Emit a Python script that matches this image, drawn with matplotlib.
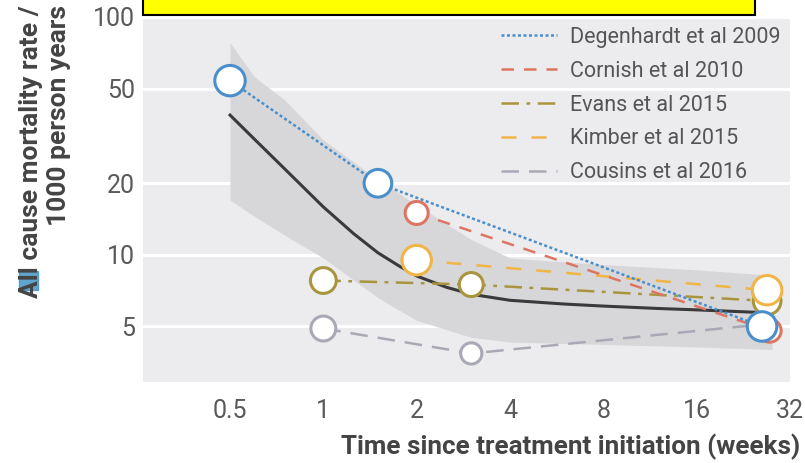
import matplotlib
matplotlib.use('Agg')
import matplotlib.pyplot as plt
from matplotlib.patches import Rectangle
from matplotlib.ticker import FixedLocator, NullLocator, FixedFormatter

plt.rcParams['font.family'] = ['Roboto', 'DejaVu Sans']

# Study data (weeks since treatment start, deaths per 1000 person years)
deg_weeks = [0.5, 1.5, 26]
deg_rate = [54, 20, 5.0]
cor_weeks = [2, 27.5]
cor_rate = [15, 4.8]
eva_weeks = [1, 3, 27]
eva_rate = [7.8, 7.5, 6.4]
kim_weeks = [2, 27]
kim_rate = [9.5, 7.1]
cou_weeks = [1, 3, 26]
cou_rate = [4.9, 3.85, 5.1]

# Pooled curve and its confidence band
pool_weeks = [0.5, 0.6, 0.75, 0.9, 1, 1.25, 1.5, 1.75, 2, 2.5, 3, 4, 6, 8, 12, 16, 26]
pool_rate = [38.7, 30.6, 23.0, 18.2, 15.9, 12.3, 10.2, 9.0, 8.15, 7.3, 6.83, 6.44,
             6.21, 6.09, 5.95, 5.87, 5.72]
band_weeks = [0.5, 0.6, 0.75, 1, 1.5, 2, 3, 4, 8, 16, 28]
band_hi = [77.8, 56, 44.8, 30.4, 20.7, 16.2, 11.6, 9.7, 9.1, 8.65, 8.2]
band_lo = [17.0, 14.5, 12.1, 9.7, 6.6, 5.3, 4.5, 4.3, 4.2, 4.1, 4.0]

labels = ['Degenhardt et al 2009', 'Cornish et al 2010', 'Evans et al 2015',
          'Kimber et al 2015', 'Cousins et al 2016']
x_ticks = [0.5, 1, 2, 4, 8, 16, 32]
x_ticklabels = ['0.5', '1', '2', '4', '8', '16', '32']
y_ticks = [5, 10, 20, 50, 100]
y_ticklabels = ['5', '10', '20', '50', '100']

# legend order: data, colour, dash pattern, marker diameters (px)
series = [
    (deg_weeks, deg_rate, '#4a8fcc', (0, (1.2, 1.0)), [33, 30, 32]),
    (cor_weeks, cor_rate, '#dd7563', (0, (5, 4)), [25, 25]),
    (eva_weeks, eva_rate, '#a8953e', (0, (7, 3, 1.5, 3)), [28, 26, 30]),
    (kim_weeks, kim_rate, '#f0b447', (0, (6, 6)), [32, 32]),
    (cou_weeks, cou_rate, '#a9a9b6', (0, (7, 4)), [27, 23, 28]),
]
draw_order = [4, 2, 3, 1, 0]

fig = plt.figure(figsize=(8.05, 4.63), dpi=100)
ax = fig.add_axes([143 / 805, 81 / 463, 647 / 805, 365 / 463])
ax.set_facecolor('#ececee')
ax.set_xscale('log', base=2)
ax.set_yscale('log')
ax.set_xlim(0.262, 32)
ax.set_ylim(2.92, 100)

ax.fill_between(band_weeks, band_lo, band_hi, color='#d7d7da', lw=0, zorder=1)
ax.plot(pool_weeks, pool_rate, color='#3a3a3a', lw=2.2, zorder=2)

z = 3
for k in draw_order:
    wx, ry, col, ls, msz = series[k]
    ax.plot(wx, ry, color=col, lw=1.8, linestyle=ls, zorder=z)
    ax.scatter(wx, ry, s=[(d * 0.72) ** 2 * 0.85 for d in msz], facecolor='white',
               edgecolor=col, linewidth=2.2, zorder=z + 1)
    z += 2

for s in ax.spines.values():
    s.set_visible(False)

ax.xaxis.set_major_locator(FixedLocator(x_ticks))
ax.xaxis.set_major_formatter(FixedFormatter(x_ticklabels))
ax.xaxis.set_minor_locator(NullLocator())
ax.yaxis.set_major_locator(FixedLocator(y_ticks))
ax.yaxis.set_major_formatter(FixedFormatter(y_ticklabels))
ax.yaxis.set_minor_locator(NullLocator())
ax.tick_params(axis='both', length=0, labelsize=18, labelcolor='#5a5a5a')
ax.tick_params(axis='x', pad=12)
ax.tick_params(axis='y', pad=6)
ax.grid(axis='y', color='white', lw=2.2)
ax.set_axisbelow(True)

# legend with line handles only
leg_lines = [plt.Line2D([], [], color=c, lw=1.8, linestyle=ls) for _, _, c, ls, _ in series]
leg = ax.legend(leg_lines, labels, loc='upper right', bbox_to_anchor=(1.0, 1.0),
                frameon=False, fontsize=15.5, handlelength=2.6, handletextpad=0.6,
                labelspacing=0.6, borderaxespad=0.05)
for t in leg.get_texts():
    t.set_color('#555555')

fig.text(800 / 805, 1 - 447 / 463, 'Time since treatment initiation (weeks)',
         ha='right', va='center', fontsize=18.7, fontweight='bold', color='#444444')
fig.text(45 / 805, 1 - 5 / 463, 'All cause mortality rate /\n1000 person years',
         rotation=90, ha='center', va='top', multialignment='right',
         fontsize=19, fontweight='bold', color='#444444', linespacing=1.25)

# highlight artefact and yellow box at top
fig.patches.append(Rectangle((19 / 805, 1 - 290 / 463), 19 / 805, 19 / 463,
                             transform=fig.transFigure, color='#3a8fc4', alpha=0.8, zorder=0))
fig.patches.append(Rectangle((143 / 805, 1 - 15 / 463), 612 / 805, 20 / 463,
                             transform=fig.transFigure, facecolor='#ffff00',
                             edgecolor='black', lw=1.5, zorder=5))

fig.savefig('out.png', dpi=100)
